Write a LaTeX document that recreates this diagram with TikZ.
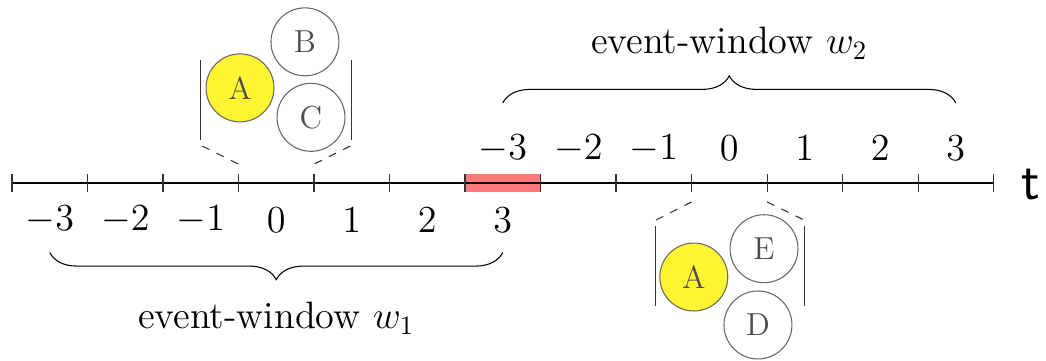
\documentclass[tikz,border=0pt]{standalone}
\usepackage{amsmath}
\usepackage{tikz}
\usetikzlibrary{decorations.pathreplacing, calc}
\tikzset{
  ew@tick/.style={thin, black!80},
  ew@obj/.style={
    circle, draw=black!60, text=black!70,
    minimum size=0.9cm, inner sep=0pt, font=\large
  },
  ew@hit/.style={ew@obj, fill=yellow!80},
  ew@bar/.style={thin, black!80},
  ew@link/.style={thin, dashed, black!80},
  ew@brace/.style={decorate, decoration={brace, amplitude=0.36cm}, thin},
  ew@num/.style={font=\Large},
  ew@lbl/.style={font=\Large},
}

\begin{document}
\begin{tikzpicture}
  \useasboundingbox (-0.159,-2.344) rectangle (13.695,2.424);
  % time axis
  \foreach \i in {0,...,13} \coordinate (t\i) at (\i,0);
  \node[fill=red!52, minimum width=1cm, minimum height=0.25cm, inner sep=0pt, anchor=west] (overlap) at (t6) {};
  \draw (t0) -- (t13);
  \foreach \i in {0,...,13} \draw[ew@tick] ($(t\i)+(0,-0.12)$) -- ($(t\i)+(0,0.12)$);
  \node[font=\huge\sffamily] (time) at (13.50,-0.02) {t};
  % offsets of both windows
  \foreach \k [count=\j from 0] in {-3,...,3} {
    \node[ew@num] (lo\j) at (\j+0.5,-0.49) {$\k$};
    \node[ew@num] (hi\j) at (\j+6.5,0.46) {$\k$};
  }
  % window w1
  \coordinate (w1s) at (0.5,-0.92);
  \coordinate (w1e) at (6.5,-0.92);
  \draw[ew@brace] (w1e) -- (w1s);
  \node[ew@lbl] (w1) at (3.5,-1.79) {event-window $w_1$};
  % window w2
  \coordinate (w2s) at (6.5,1.06);
  \coordinate (w2e) at (12.5,1.06);
  \draw[ew@brace] (w2s) -- (w2e);
  \node[ew@lbl] (w2) at (9.5,1.85) {event-window $w_2$};
  % events at offset 0 of w1
  \node[ew@hit] (a1) at (3.02,1.26) {A};
  \node[ew@obj] (b1) at (3.88,1.87) {B};
  \node[ew@obj] (c1) at (3.96,0.87) {C};
  \coordinate (g1lb) at (2.50,0.57);
  \coordinate (g1lt) at (2.50,1.63);
  \coordinate (g1rb) at (4.50,0.57);
  \coordinate (g1rt) at (4.50,1.63);
  \draw[ew@bar] (g1lb) -- (g1lt);
  \draw[ew@bar] (g1rb) -- (g1rt);
  \draw[ew@link] ($(g1lb)+(0.02,-0.08)$) -- ($(t3)+(0,0.25)$);
  \draw[ew@link] ($(g1rb)+(-0.02,-0.08)$) -- ($(t4)+(0,0.25)$);
  % events at offset 0 of w2
  \node[ew@hit] (a2) at (9.03,-1.245) {A};
  \node[ew@obj] (e2) at (9.96,-0.87) {E};
  \node[ew@obj] (d2) at (9.88,-1.88) {D};
  \coordinate (g2lt) at (8.52,-0.57);
  \coordinate (g2lb) at (8.52,-1.63);
  \coordinate (g2rt) at (10.49,-0.57);
  \coordinate (g2rb) at (10.49,-1.63);
  \draw[ew@bar] (g2lt) -- (g2lb);
  \draw[ew@bar] (g2rt) -- (g2rb);
  \draw[ew@link] ($(t9)+(0,-0.25)$) -- ($(g2lt)+(0.01,0.08)$);
  \draw[ew@link] ($(t10)+(0,-0.25)$) -- ($(g2rt)+(0,0.08)$);
\end{tikzpicture}
\end{document}
